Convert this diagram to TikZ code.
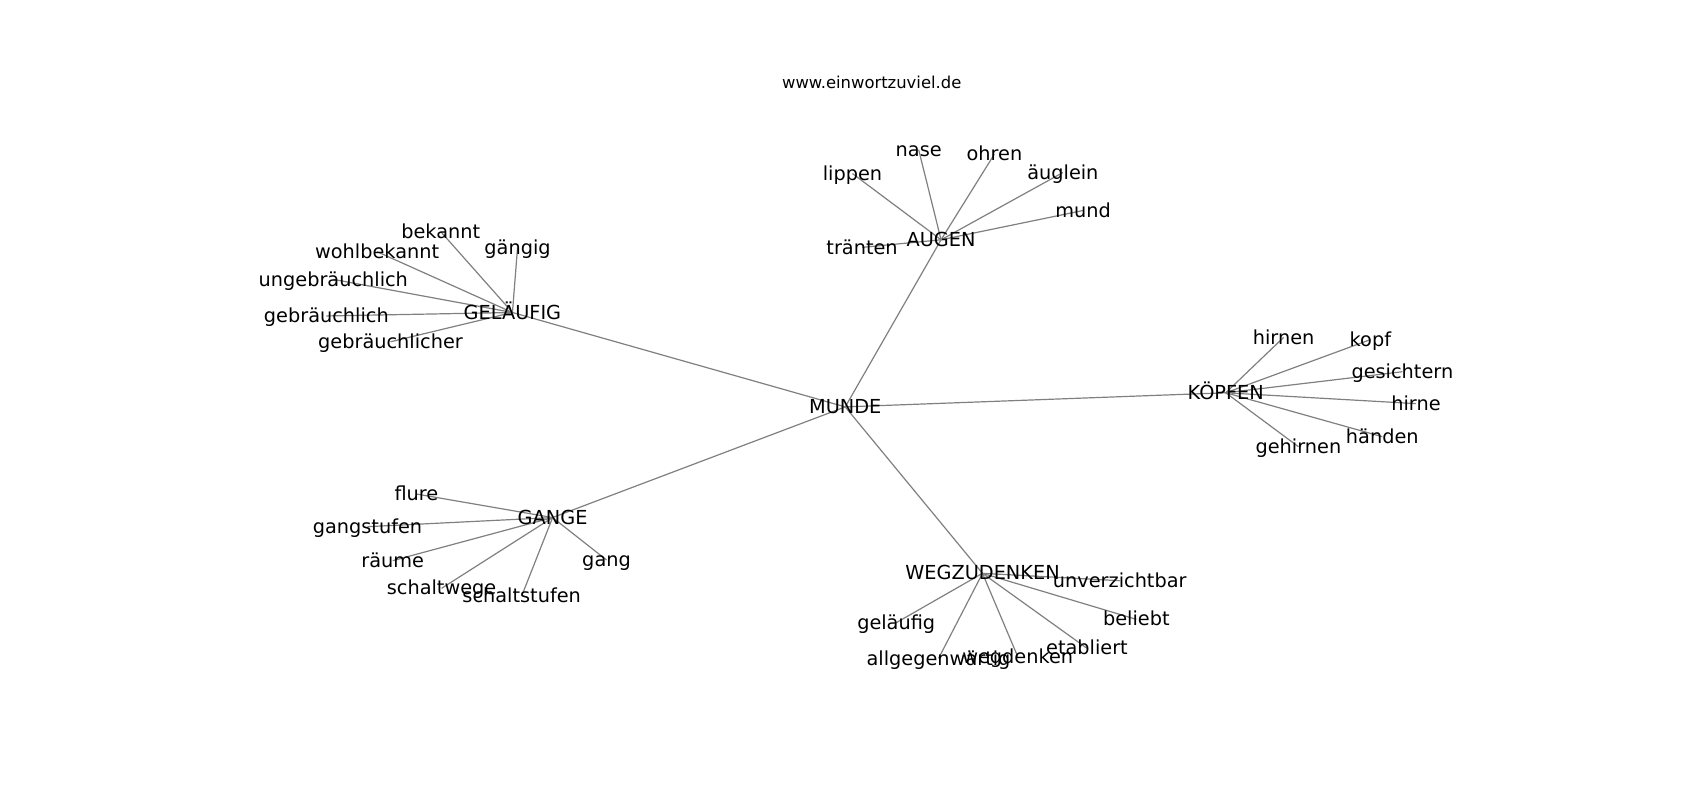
\documentclass[tikz,border=0pt]{standalone}
\usepackage{fontspec}
\setmainfont{DejaVu Sans}
\begin{document}
\begin{tikzpicture}[x=1.085pt,y=-1.085pt,
  edge/.style={draw=gray,line width=1.2pt},
  lbl/.style={font=\fontsize{19.3}{21}\selectfont,text height=14.7pt,text depth=1.4pt,inner sep=0pt,anchor=center,text=black},
  ttl/.style={font=\fontsize{16.4}{18}\selectfont,inner sep=0pt,anchor=center,text=black}]
\useasboundingbox[fill=white] (0,0) rectangle (1566.8,737.3);
% positions
\coordinate (munde) at (779,375);
\coordinate (augen) at (867.3,221);
\coordinate (gel) at (472.3,288);
\coordinate (koepfen) at (1129.7,362);
\coordinate (gange) at (509.3,477);
\coordinate (weg) at (905.5,528.4);
% AUGEN leaves
\coordinate (nase) at (846.7,138);
\coordinate (ohren) at (916.5,142);
\coordinate (lippen) at (785.7,160);
\coordinate (aeuglein) at (979.6,159);
\coordinate (mund) at (998.2,194);
\coordinate (traenten) at (794.5,228);
% GELAEUFIG leaves
\coordinate (bekannt) at (406.2,213.5);
\coordinate (gaengig) at (477,228);
\coordinate (wohlbekannt) at (347.6,232);
\coordinate (ungebr) at (307.2,257.5);
\coordinate (gebr) at (300.8,291.2);
\coordinate (gebrer) at (359.9,315);
% KOEPFEN leaves
\coordinate (hirnen) at (1183,311);
\coordinate (kopf) at (1263,313);
\coordinate (gesichtern) at (1292.5,342.6);
\coordinate (hirne) at (1305,372);
\coordinate (haenden) at (1274,402.5);
\coordinate (gehirnen) at (1196.7,411.7);
% GANGE leaves
\coordinate (flure) at (383.8,455.3);
\coordinate (gangstufen) at (338.7,485.4);
\coordinate (raeume) at (362,516.7);
\coordinate (schaltwege) at (407,542.2);
\coordinate (schaltstufen) at (480.8,549.3);
\coordinate (gang) at (559,516.1);
% WEGZUDENKEN leaves
\coordinate (unverz) at (1032,535.2);
\coordinate (gelaeufig) at (826,573.9);
\coordinate (beliebt) at (1047.3,570.8);
\coordinate (allgeg) at (865,606.8);
\coordinate (wegdenken) at (938,605.2);
\coordinate (etabliert) at (1001.8,597.5);
% edges
\foreach \a/\b in {munde/augen,munde/gel,munde/koepfen,munde/gange,munde/weg,
  augen/nase,augen/ohren,augen/lippen,augen/aeuglein,augen/mund,augen/traenten,
  gel/bekannt,gel/gaengig,gel/wohlbekannt,gel/ungebr,gel/gebr,gel/gebrer,
  koepfen/hirnen,koepfen/kopf,koepfen/gesichtern,koepfen/hirne,koepfen/haenden,koepfen/gehirnen,
  gange/flure,gange/gangstufen,gange/raeume,gange/schaltwege,gange/schaltstufen,gange/gang,
  weg/unverz,weg/gelaeufig,weg/beliebt,weg/allgeg,weg/wegdenken,weg/etabliert}
  \draw[edge] (\a) -- (\b);
% labels
\node[ttl] (title) at (803.4,76.2) {www.einwortzuviel.de};
\node[lbl] (l-munde) at (munde) {MUNDE};
\node[lbl] (l-augen) at (augen) {AUGEN};
\node[lbl] (l-gel) at (gel) {GELÄUFIG};
\node[lbl] (l-koepfen) at (koepfen) {KÖPFEN};
\node[lbl] (l-gange) at (gange) {GANGE};
\node[lbl] (l-weg) at (weg) {WEGZUDENKEN};
\node[lbl] (l-nase) at (nase) {nase};
\node[lbl] (l-ohren) at (ohren) {ohren};
\node[lbl] (l-lippen) at (lippen) {lippen};
\node[lbl] (l-aeuglein) at (aeuglein) {äuglein};
\node[lbl] (l-mund) at (mund) {mund};
\node[lbl] (l-traenten) at (traenten) {tränten};
\node[lbl] (l-bekannt) at (bekannt) {bekannt};
\node[lbl] (l-gaengig) at (gaengig) {gängig};
\node[lbl] (l-wohlbekannt) at (wohlbekannt) {wohlbekannt};
\node[lbl] (l-ungebr) at (ungebr) {ungebräuchlich};
\node[lbl] (l-gebr) at (gebr) {gebräuchlich};
\node[lbl] (l-gebrer) at (gebrer) {gebräuchlicher};
\node[lbl] (l-hirnen) at (hirnen) {hirnen};
\node[lbl] (l-kopf) at (kopf) {kopf};
\node[lbl] (l-gesichtern) at (gesichtern) {gesichtern};
\node[lbl] (l-hirne) at (hirne) {hirne};
\node[lbl] (l-haenden) at (haenden) {händen};
\node[lbl] (l-gehirnen) at (gehirnen) {gehirnen};
\node[lbl] (l-flure) at (flure) {flure};
\node[lbl] (l-gangstufen) at (gangstufen) {gangstufen};
\node[lbl] (l-raeume) at (raeume) {räume};
\node[lbl] (l-schaltwege) at (schaltwege) {schaltwege};
\node[lbl] (l-schaltstufen) at (schaltstufen) {schaltstufen};
\node[lbl] (l-gang) at (gang) {gang};
\node[lbl] (l-unverz) at (unverz) {unverzichtbar};
\node[lbl] (l-gelaeufig) at (gelaeufig) {geläufig};
\node[lbl] (l-beliebt) at (beliebt) {beliebt};
\node[lbl] (l-allgeg) at (allgeg) {allgegenwärtig};
\node[lbl] (l-wegdenken) at (wegdenken) {wegdenken};
\node[lbl] (l-etabliert) at (etabliert) {etabliert};
\end{tikzpicture}
\end{document}
